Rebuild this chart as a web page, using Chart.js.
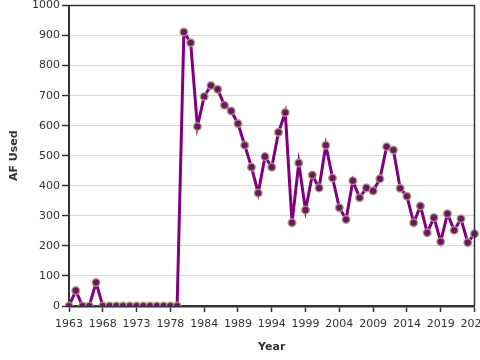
<!DOCTYPE html>
<html>
<head>
<meta charset="utf-8">
<script src="https://cdn.jsdelivr.net/npm/chart.js@4"></script>
<style>
  html, body { margin: 0; padding: 0; background: #fff; overflow: hidden; }
  #wrap { width: 480px; height: 360px; }
</style>
</head>
<body>
<div id="wrap"><canvas id="afChart" width="480" height="360"></canvas></div>
<script>
// years on the category axis (1983 has no record)
const years = [
  1963, 1964, 1965, 1966, 1967, 1968, 1969, 1970, 1971, 1972,
  1973, 1974, 1975, 1976, 1977, 1978, 1979, 1980, 1981, 1982,
  1984, 1985, 1986, 1987, 1988, 1989, 1990, 1991, 1992, 1993,
  1994, 1995, 1996, 1997, 1998, 1999, 2000, 2001, 2002, 2003,
  2004, 2005, 2006, 2007, 2008, 2009, 2010, 2011, 2012, 2013,
  2014, 2015, 2016, 2017, 2018, 2019, 2020, 2021, 2022, 2023,
  2024
];

// acre-feet used per year
const afUsed = [
  0, 51, 0, 0, 78, 0, 0, 0, 0, 0,
  0, 0, 0, 0, 0, 0, 0, 912, 876, 597,
  697, 734, 721, 668, 649, 607, 535, 462, 376, 497,
  462, 578, 644, 277, 476, 319, 436, 393, 535, 426,
  327, 288, 417, 360, 393, 383, 423, 530, 519, 392,
  365, 277, 333, 244, 294, 214, 307, 252, 290, 211,
  240
];

const yTicks = [0, 100, 200, 300, 400, 500, 600, 700, 800, 900, 1000];

const FONT = "'DejaVu Sans', Verdana, sans-serif";

// dark frame on top and right of the plot area
const framePlugin = {
  id: "frame",
  afterDraw(chart) {
    const { ctx, chartArea: a } = chart;
    ctx.save();
    ctx.strokeStyle = "#333";
    ctx.lineWidth = 1.5;
    ctx.beginPath();
    ctx.moveTo(a.left, a.top);
    ctx.lineTo(a.right, a.top);
    ctx.lineTo(a.right, a.bottom);
    ctx.stroke();
    ctx.restore();
  }
};

const ctx = document.getElementById("afChart").getContext("2d");
new Chart(ctx, {
  type: "line",
  data: {
    labels: years,
    datasets: [
      {
        label: "AF Used",
        data: afUsed,
        borderColor: "#800080",
        borderWidth: 3,
        tension: 0,
        pointRadius: 3.8,
        pointBackgroundColor: "#6e1468",
        pointBorderColor: "rgba(170, 160, 120, 0.85)",
        pointBorderWidth: 1.5,
        fill: false,
      },
    ],
  },
  options: {
    responsive: false,
    animation: false,
    events: [],
    layout: { padding: { top: 4, right: 4, left: 0, bottom: 0 } },
    plugins: { legend: { display: false }, tooltip: { enabled: false } },
    scales: {
      x: {
        type: "category",
        offset: false,
        afterBuildTicks: (s) => {
          s.ticks = s.ticks.filter((t) => t.value % 5 === 0);
        },
        afterFit: (s) => {
          s.height = 54;
          s.paddingLeft = 0;
          s.paddingRight = 0;
        },
        grid: {
          drawOnChartArea: false,
          drawTicks: true,
          tickLength: 6,
          tickColor: "#333",
          tickWidth: 1.5,
        },
        border: { color: "#333", width: 2.5 },
        ticks: {
          autoSkip: false,
          maxRotation: 0,
          padding: 6,
          color: "#333",
          font: { family: FONT, size: 11 },
        },
        title: {
          display: true,
          text: "Year",
          color: "#333",
          padding: { top: 6, bottom: 6 },
          font: { family: FONT, size: 11, weight: "bold" },
        },
      },
      y: {
        min: 0,
        max: 1000,
        afterBuildTicks: (s) => {
          s.ticks = yTicks.map((v) => ({ value: v }));
        },
        afterFit: (s) => {
          s.width = 69;
          s.paddingTop = 0;
          s.paddingBottom = 0;
        },
        grid: {
          color: "#d9d9d9",
          lineWidth: 1,
          drawTicks: true,
          tickLength: 7,
          tickColor: "#333",
          tickWidth: 1.5,
        },
        border: { color: "#333", width: 2 },
        ticks: {
          padding: 2,
          color: "#333",
          font: { family: FONT, size: 11 },
          callback: (v) => String(v),
        },
        title: {
          display: true,
          text: "AF Used",
          color: "#333",
          padding: { top: 8, bottom: 8 },
          font: { family: FONT, size: 11, weight: "bold" },
        },
      },
    },
  },
  plugins: [framePlugin],
});
</script>
</body>
</html>
